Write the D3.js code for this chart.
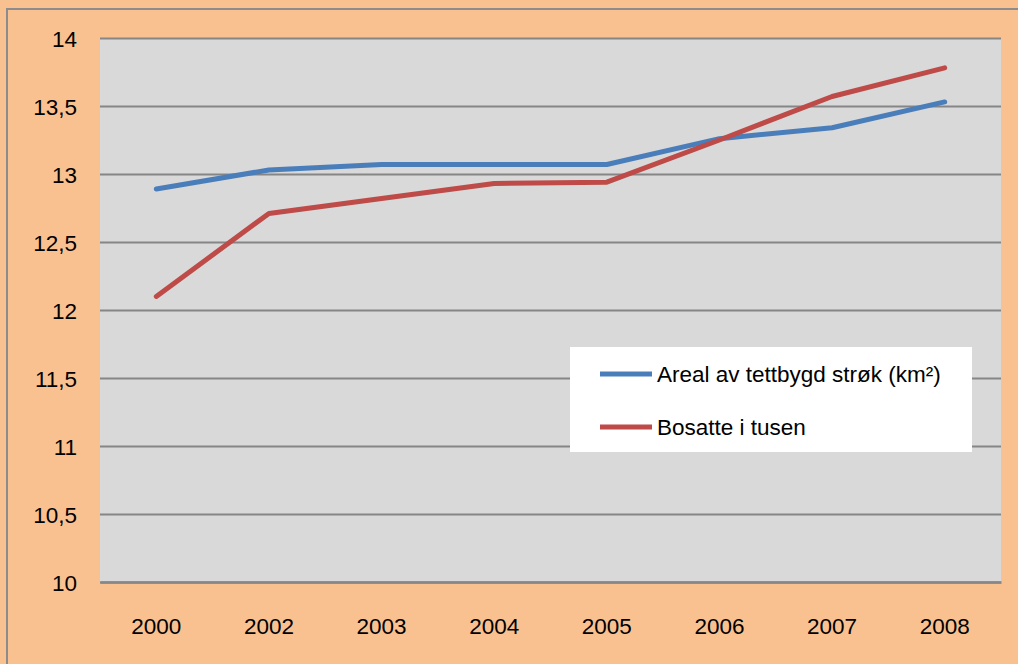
<!DOCTYPE html>
<html>
<head>
<meta charset="utf-8">
<script src="https://cdn.jsdelivr.net/npm/d3@7"></script>
<style>
  html, body { margin: 0; padding: 0; background: #F9C190; }
  svg { display: block; }
  text { font-family: "Liberation Sans", Arial, sans-serif; fill: #000; }
</style>
</head>
<body>
<svg id="chart"></svg>
<script>
const years = ['2000', '2002', '2003', '2004', '2005', '2006', '2007', '2008']
const areal = [12.89, 13.03, 13.07, 13.07, 13.07, 13.26, 13.34, 13.53]
const bosatte = [12.1, 12.71, 12.82, 12.93, 12.94, 13.25, 13.57, 13.78]
const yTicks = [10, 10.5, 11, 11.5, 12, 12.5, 13, 13.5, 14]

const series = [
	{ name: 'Areal av tettbygd strøk (km²)', values: areal, color: '#4A7EBB' },
	{ name: 'Bosatte i tusen', values: bosatte, color: '#BE4B48' }
]

const width = 1018
const height = 664
const plot = { left: 100, right: 1001, top: 38, bottom: 582 }

const $svg = d3.select('#chart')
	.attr('width', width)
	.attr('height', height)

// outer frame
$svg.append('rect')
	.attr('x', 0).attr('y', 0)
	.attr('width', width).attr('height', height)
	.attr('fill', '#F9C190')
$svg.append('rect')
	.attr('x', 7).attr('y', 9)
	.attr('width', width + 10).attr('height', height + 10)
	.attr('fill', 'none')
	.attr('stroke', '#8C8C8C')
	.attr('stroke-width', 2)

const scaleX = d3.scaleBand()
	.domain(years)
	.range([plot.left, plot.right])
const scaleY = d3.scaleLinear()
	.domain([10, 14])
	.range([plot.bottom, plot.top])

// plot area
$svg.append('rect')
	.attr('x', plot.left).attr('y', plot.top)
	.attr('width', plot.right - plot.left)
	.attr('height', plot.bottom - plot.top)
	.attr('fill', '#D9D9D9')

const fmt = d => String(d).replace('.', ',')

const $gY = $svg.append('g')
	.attr('transform', `translate(${plot.left},0)`)
	.call(d3.axisLeft(scaleY).tickValues(yTicks).tickFormat(fmt)
		.tickSize(-(plot.right - plot.left)).tickPadding(23))
$gY.select('.domain').remove()
$gY.selectAll('.tick line')
	.attr('stroke', '#868686')
	.attr('stroke-width', 2)
$gY.selectAll('.tick text')
	.style('font-size', '22.5px')
	.attr('dy', '0.36em')

const $gX = $svg.append('g')
	.attr('transform', `translate(0,${plot.bottom})`)
	.call(d3.axisBottom(scaleX).tickSize(0).tickPadding(44))
$gX.select('.domain')
	.attr('stroke', '#868686')
	.attr('stroke-width', 2.5)
$gX.selectAll('.tick text')
	.style('font-size', '22.5px')
	.attr('dy', '0.36em')

const line = d3.line()
	.x((d, i) => scaleX(years[i]) + scaleX.bandwidth() / 2)
	.y(d => scaleY(d))

$svg.selectAll('path.series')
	.data(series)
	.join('path')
	.attr('class', 'series')
	.attr('d', d => line(d.values))
	.attr('fill', 'none')
	.attr('stroke', d => d.color)
	.attr('stroke-width', 5)
	.attr('stroke-linecap', 'round')
	.attr('stroke-linejoin', 'round')

// legend
const $legend = $svg.append('g')
	.attr('transform', 'translate(570,347)')
$legend.append('rect')
	.attr('width', 402)
	.attr('height', 105)
	.attr('fill', '#FFFFFF')

const $item = $legend.selectAll('g.item')
	.data(series)
	.join('g')
	.attr('class', 'item')
	.attr('transform', (d, i) => `translate(0,${27 + i * 53})`)
$item.append('line')
	.attr('x1', 30).attr('x2', 82)
	.attr('stroke', d => d.color)
	.attr('stroke-width', 5)
$item.append('text')
	.attr('x', 87)
	.attr('dy', '0.36em')
	.style('font-size', '22.5px')
	.text(d => d.name)
</script>
</body>
</html>
